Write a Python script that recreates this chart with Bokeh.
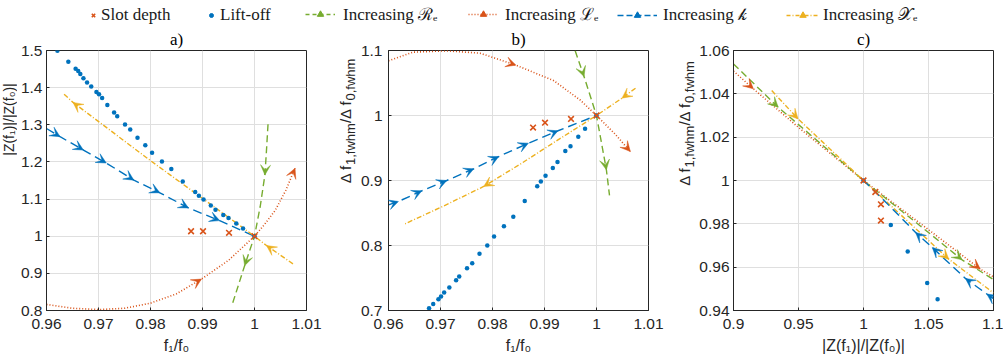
import numpy as np
from bokeh.plotting import figure
from bokeh.layouts import column, row
from bokeh.models import (ColumnDataSource, Arrow, VeeHead, Label, Legend, LegendItem,
                          Range1d, FixedTicker, CustomJSTickFormatter)
from bokeh.embed import file_html
from bokeh.resources import INLINE

# ---------------- data ----------------
# lift-off sweep: f1/f0, |Z(f1)|/|Z(f0)|, Δf1/Δf0
lift_f = [1.0, 0.9978, 0.9965, 0.9950, 0.9940, 0.9925, 0.9916, 0.9902, 0.9893, 0.9886,
          0.9862, 0.9840, 0.9822, 0.9803, 0.9790, 0.9775, 0.9761, 0.9751, 0.9736, 0.9730,
          0.9717, 0.9707, 0.9701, 0.9696, 0.9686, 0.9678, 0.9671, 0.9665, 0.9661, 0.9656,
          0.9642, 0.9621]
lift_z = [1.0, 1.021, 1.034, 1.049, 1.057, 1.071, 1.083, 1.099, 1.109, 1.119,
          1.147, 1.181, 1.201, 1.225, 1.245, 1.265, 1.287, 1.301, 1.323, 1.333,
          1.353, 1.372, 1.382, 1.388, 1.403, 1.414, 1.425, 1.437, 1.445, 1.451,
          1.470, 1.499]
lift_df = [1.0, 0.9795, 0.9672, 0.9527, 0.9452, 0.9283, 0.9191, 0.9072, 0.8985, 0.8910,
           0.8685, 0.8442, 0.8298, 0.8140, 0.7999, 0.7875, 0.7726, 0.7650, 0.7522, 0.7465,
           0.7353, 0.7276, 0.7215, 0.7174, 0.7100, 0.7036, 0.697, 0.692, 0.689, 0.686,
           0.677, 0.663]
# slot depth
slot_f = [0.9878, 0.9901, 0.9951, 1.0]
slot_z = [1.0134, 1.0134, 1.0091, 1.0]
slot_df = [0.9815, 0.9890, 0.9947, 1.0]

# panel a) curves (f1/f0, |Z| ratio), ordered in the direction of increase
a_re_f = [1.0026, 1.0023, 1.0020, 1.0011, 1.0, 0.9981, 0.9956]
a_re_z = [1.3014, 1.23, 1.165, 1.08, 1.0, 0.9207, 0.811]
a_re_arrows = [2, 5]
a_le_f = [0.96, 0.965, 0.97, 0.975, 0.98, 0.985, 0.9898, 0.995, 1.0, 1.002, 1.004, 1.006, 1.0078]
a_le_z = [0.8163, 0.806, 0.8025, 0.806, 0.8197, 0.845, 0.8846, 0.935, 1.0, 1.033, 1.07, 1.123, 1.183]
a_le_arrows = [6, 12]
a_k_f = [0.96, 0.9626, 0.9671, 0.9715, 0.9768, 0.9818, 0.9873, 0.9933, 1.0]
a_k_z = [1.290, 1.268, 1.232, 1.197, 1.151, 1.117, 1.076, 1.042, 1.0]
a_k_arrows = [1, 2, 3, 4, 5, 6, 7]
a_xe_f = [1.0074, 1.0023, 1.0, 0.9901, 0.9799, 0.9651, 0.9632]
a_xe_z = [0.9255, 0.975, 1.0, 1.1008, 1.2045, 1.3603, 1.3846]
a_xe_arrows = [1, 5]

# panel b) curves (f1/f0, Δf ratio)
b_re_f = [0.9959, 0.9976, 1.0, 1.0019, 1.0025]
b_re_df = [1.0995, 1.06, 1.0, 0.9165, 0.877]
b_re_arrows = [1, 3]
b_le_f = [0.96, 0.9647, 0.9712, 0.9776, 0.9845, 0.9918, 0.9969, 1.0, 1.0035, 1.0065]
b_le_df = [1.0841, 1.0974, 1.0995, 1.0959, 1.0775, 1.0535, 1.0235, 1.0, 0.972, 0.9446]
b_le_arrows = [4, 9]
b_k_f = [0.96, 0.9619, 0.9664, 0.9712, 0.9764, 0.9812, 0.9869, 0.9926, 1.0]
b_k_df = [0.8626, 0.8677, 0.8841, 0.900, 0.918, 0.9369, 0.9574, 0.9765, 1.0]
b_k_arrows = [1, 2, 3, 4, 5, 6, 7]
b_xe_f = [1.0075, 1.0049, 1.0, 0.9921, 0.9855, 0.9783, 0.9705, 0.9632]
b_xe_df = [1.042, 1.0267, 1.0, 0.96, 0.926, 0.8908, 0.8604, 0.8334]
b_xe_arrows = [1, 5]

# panel c) curves (|Z| ratio, Δf ratio)
c_re_z = [0.9, 0.9344, 0.95, 1.0, 1.05, 1.0758, 1.1]
c_re_df = [1.0538, 1.0338, 1.0258, 1.0, 0.976, 0.9634, 0.9543]
c_re_arrows = [1, 5]
c_le_z = [0.9, 0.9153, 0.95, 1.0, 1.05, 1.0898, 1.1]
c_le_df = [1.0505, 1.0423, 1.0245, 1.0, 0.9773, 0.9591, 0.9555]
c_le_arrows = [1, 5]
c_k_z = [1.1, 1.0949, 1.0784, 1.0529, 1.0401, 1.016, 1.0]
c_k_df = [0.9455, 0.9476, 0.9548, 0.9691, 0.976, 0.9907, 1.0]
c_k_arrows = [1, 2, 3, 4]
c_xe_z = [0.9294, 0.9497, 1.0, 1.0656, 1.1]
c_xe_df = [1.0415, 1.0284, 1.0, 0.9637, 0.9481]
c_xe_arrows = [1, 3]

x_ticks_ab = [0.96, 0.97, 0.98, 0.99, 1.0, 1.01]
y_ticks_a = [0.8, 0.9, 1.0, 1.1, 1.2, 1.3, 1.4, 1.5]
y_ticks_b = [0.7, 0.8, 0.9, 1.0, 1.1]
x_ticks_c = [0.9, 0.95, 1.0, 1.05, 1.1]
y_ticks_c = [0.94, 0.96, 0.98, 1.0, 1.02, 1.04, 1.06]

legend_labels = ["Slot depth", "Lift-off", "Increasing ℛₑ", "Increasing ℒₑ",
                 "Increasing 𝓀", "Increasing 𝒳ₑ"]
panel_titles = ["a)", "b)", "c)"]

# ---------------- styles ----------------
ORANGE = "#D95319"
BLUE = "#0072BD"
GREEN = "#77AC30"
YELLOW = "#EDB120"
AX = "#262626"
GRID = "#dfdfdf"
DASH_RE = "7 4"
DOT_LE = "1 2"
DASH_K = "9 5"
DASHDOT_XE = "5 2 1 2"
TICK_FONT = "Liberation Sans"
SERIF = "Liberation Serif"
TOP = 25          # legend strip height
PH = 364 - TOP    # panel figure height
FH = 260          # frame height
BORDER_TOP = 24


def panel(xr, yr, xticks, yticks, left, right, fw, title, ystand=6):
    p = figure(frame_width=fw, frame_height=FH, min_border_left=left, min_border_right=right,
               min_border_top=BORDER_TOP, min_border_bottom=PH - FH - BORDER_TOP,
               x_range=Range1d(*xr), y_range=Range1d(*yr),
               toolbar_location=None, output_backend="svg")
    p.title.text = title
    p.title.align = "center"
    p.title.text_font = SERIF
    p.title.text_font_size = "17px"
    p.title.text_font_style = "normal"
    p.title.text_color = "#000000"
    p.title.standoff = 4
    p.xaxis.ticker = FixedTicker(ticks=xticks)
    p.yaxis.ticker = FixedTicker(ticks=yticks)
    p.xaxis.formatter = CustomJSTickFormatter(code="return String(Math.round(tick*1000)/1000);")
    p.yaxis.formatter = CustomJSTickFormatter(code="return String(Math.round(tick*1000)/1000);")
    for ax in (p.xaxis[0], p.yaxis[0]):
        ax.axis_line_color = AX
        ax.major_tick_line_color = AX
        ax.major_tick_in = 3
        ax.major_tick_out = 0
        ax.minor_tick_line_color = None
        ax.minor_tick_in = 0
        ax.minor_tick_out = 0
        ax.major_label_text_font = TICK_FONT
        ax.major_label_text_font_size = "15.5px"
        ax.major_label_text_color = AX
        ax.axis_label_text_font = TICK_FONT
        ax.axis_label_text_font_size = "16px"
        ax.axis_label_text_font_style = "normal"
        ax.axis_label_text_color = AX
    p.xaxis.major_label_standoff = 8
    p.yaxis.major_label_standoff = ystand
    p.xaxis.axis_label_standoff = 5
    p.grid.grid_line_color = GRID
    p.outline_line_color = AX
    p.outline_line_alpha = 1.0
    return p


def label_fig(w):
    f = figure(width=w, height=PH, x_range=Range1d(0, 1), y_range=Range1d(0, 1),
               toolbar_location=None, output_backend="svg", min_border=0)
    f.axis.visible = False
    f.grid.visible = False
    f.outline_line_color = None
    return f


def curve(p, xs, ys, arrows, color, dash, width=1.4):
    p.line(xs, ys, line_color=color, line_dash=dash, line_width=width)
    src = ColumnDataSource(dict(x0=[xs[i - 1] for i in arrows], y0=[ys[i - 1] for i in arrows],
                                x1=[xs[i] for i in arrows], y1=[ys[i] for i in arrows]))
    p.add_layout(Arrow(end=VeeHead(size=10, fill_color=color, line_color=color, line_width=0.5),
                       x_start="x0", y_start="y0", x_end="x1", y_end="y1",
                       source=src, line_alpha=0))


def points(p, xs, ys, xs2, ys2):
    p.scatter(xs, ys, marker="circle", size=4.5, fill_color=BLUE, line_color=BLUE, line_width=0)
    p.scatter(xs2, ys2, marker="x", size=8, line_color=ORANGE, line_width=1.6)


ARIAL = {'Δ': 0.668, ' ': 0.278, 'f': 0.278, '/': 0.278, '0': 0.556, '1': 0.556,
         ',': 0.278, 'w': 0.722, 'h': 0.556, 'm': 0.833}


def tw(s, size):
    return sum(ARIAL[c] for c in s) * size


def ylabel_fwhm(f, x_base, y_center, main=15, sub=13, shift=5):
    parts = [("Δ f", main, 0), ("1,fwhm", sub, shift), ("/Δ f", main, 0), ("0,fwhm", sub, shift)]
    total = sum(tw(s, sz) for s, sz, _ in parts)
    y = y_center - total / 2
    for s, sz, dx in parts:
        f.add_layout(Label(x=x_base + dx, y=y, x_units="screen", y_units="screen", text=s,
                           angle=np.pi / 2, text_font=TICK_FONT, text_font_size=f"{sz}px",
                           text_color=AX, text_align="left", text_baseline="alphabetic"))
        y += tw(s, sz)


# ---------------- panel a ----------------
la = label_fig(17)
la.add_layout(Label(x=8.5, y=364 - 174, x_units="screen", y_units="screen", text="|Z(f₁)|/|Z(f₀)|",
                    angle=np.pi / 2, text_font=TICK_FONT, text_font_size="14px", text_color=AX,
                    text_align="center", text_baseline="middle"))
pa = panel((0.96, 1.01), (0.8, 1.5), x_ticks_ab, y_ticks_a, 27, 26, 260, panel_titles[0], ystand=4)
curve(pa, a_le_f, a_le_z, a_le_arrows, ORANGE, DOT_LE, 1.6)
curve(pa, a_re_f, a_re_z, a_re_arrows, GREEN, DASH_RE)
curve(pa, a_k_f, a_k_z, a_k_arrows, BLUE, DASH_K)
curve(pa, a_xe_f, a_xe_z, a_xe_arrows, YELLOW, DASHDOT_XE)
points(pa, lift_f, lift_z, slot_f, slot_z)
pa.xaxis.axis_label = "f₁/f₀"

# ---------------- panel b ----------------
lb = label_fig(25)
ylabel_fwhm(lb, 13, 364 - 175.5)
pb = panel((0.96, 1.01), (0.7, 1.1), x_ticks_ab, y_ticks_b, 30, 23, 260, panel_titles[1])
curve(pb, b_le_f, b_le_df, b_le_arrows, ORANGE, DOT_LE, 1.6)
curve(pb, b_re_f, b_re_df, b_re_arrows, GREEN, DASH_RE)
curve(pb, b_k_f, b_k_df, b_k_arrows, BLUE, DASH_K)
curve(pb, b_xe_f, b_xe_df, b_xe_arrows, YELLOW, DASHDOT_XE)
points(pb, lift_f, lift_df, slot_f, slot_df)
pb.xaxis.axis_label = "f₁/f₀"

# ---------------- panel c ----------------
lc = label_fig(25)
ylabel_fwhm(lc, 13, 364 - 178)
pc = panel((0.9, 1.1), (0.94, 1.06), x_ticks_c, y_ticks_c, 35, 10, 260, panel_titles[2], ystand=4)
curve(pc, c_le_z, c_le_df, c_le_arrows, ORANGE, DOT_LE, 1.6)
curve(pc, c_re_z, c_re_df, c_re_arrows, GREEN, DASH_RE)
curve(pc, c_xe_z, c_xe_df, c_xe_arrows, YELLOW, DASHDOT_XE)
curve(pc, c_k_z, c_k_df, c_k_arrows, BLUE, DASH_K)
points(pc, lift_z, lift_df, slot_z, slot_df)
pc.xaxis.axis_label = "|Z(f₁)|/|Z(f₀)|"

# ---------------- top strip: legend ----------------
lg = figure(width=1004, height=TOP, x_range=Range1d(0, 1), y_range=Range1d(0, 1),
            toolbar_location=None, output_backend="svg", min_border=0)
lg.axis.visible = False
lg.grid.visible = False
lg.outline_line_color = None

nan = [float("nan")]
r_slot = lg.scatter(x=nan, y=nan, marker="x", size=8, line_color=ORANGE, line_width=1.6)
r_lift = lg.scatter(x=nan, y=nan, marker="circle", size=4.5, fill_color=BLUE, line_color=BLUE)


def line_pair(color, dash, width=1.4):
    l = lg.line(x=nan, y=nan, line_color=color, line_dash=dash, line_width=width)
    m = lg.scatter(x=nan, y=nan, marker="triangle", angle=-np.pi / 2, size=9,
                   fill_color=color, line_color=color)
    return [l, m]


entries = [
    ([r_slot], 87, 12, 2),
    ([r_lift], 206, 10, 4),
    (line_pair(GREEN, "4 3"), 305, 30, 8),
    (line_pair(ORANGE, DOT_LE, 1.6), 468, 30, 7),
    (line_pair(BLUE, "6 3"), 617, 40, 6),
    (line_pair(YELLOW, "4 2 1 2"), 786, 33, 4),
]
for (rs, x, gw, so), lab in zip(entries, legend_labels):
    L = Legend(items=[LegendItem(label=lab, renderers=rs)], location=(x, 0),
               glyph_width=gw, glyph_height=16, label_standoff=so, padding=0, margin=0,
               border_line_alpha=0, background_fill_alpha=0, label_height=20,
               label_text_font=SERIF, label_text_font_size="17px", label_text_color="#1a1a1a")
    lg.add_layout(L)

layout = column(lg, row(la, pa, lb, pb, lc, pc))
open("out.html", "w").write(file_html(layout, INLINE))
